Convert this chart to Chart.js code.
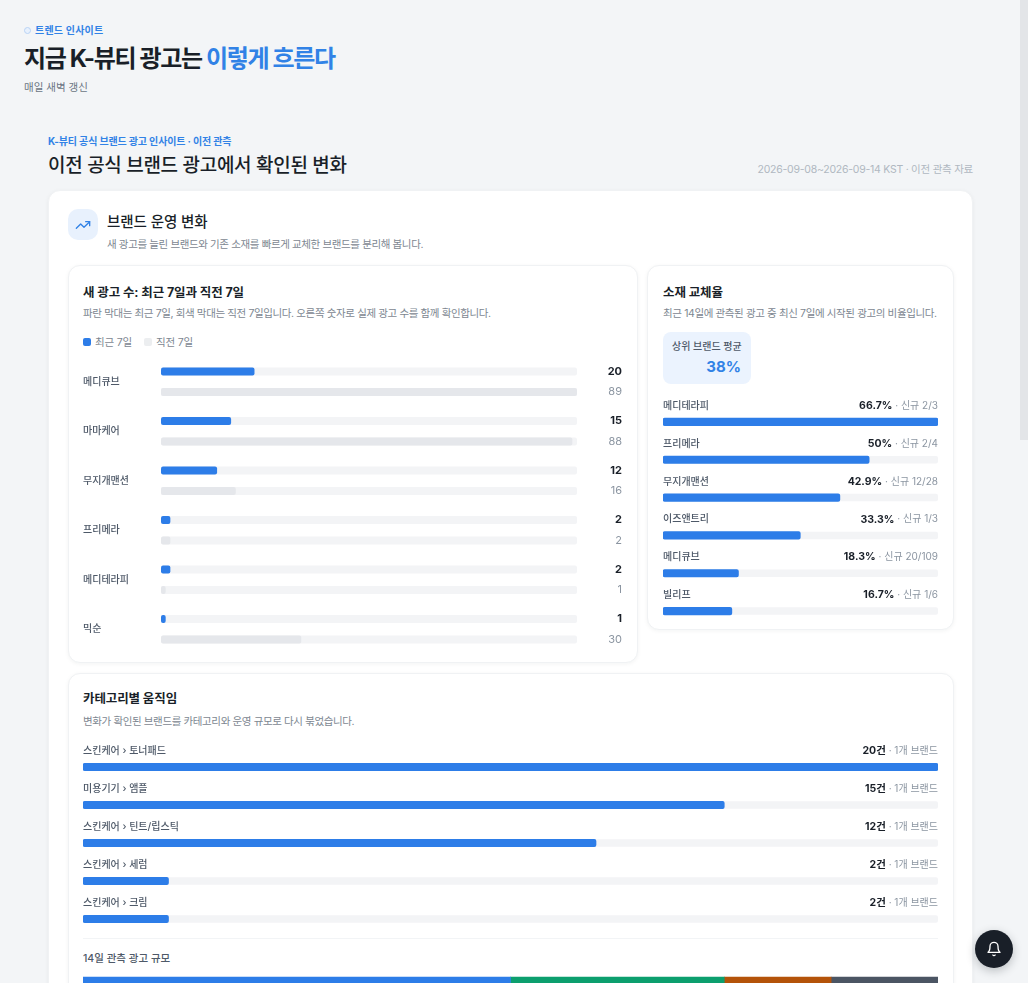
<!DOCTYPE html>
<html lang="ko">
<head>
<meta charset="utf-8">
<title>트렌드 인사이트</title>
<script src="https://cdn.jsdelivr.net/npm/chart.js@4"></script>
<style>
  * { box-sizing: border-box; margin: 0; padding: 0; }
  html, body { width: 1028px; height: 983px; overflow: hidden; }
  body { background: #f3f5f7; color: #191f28; font-family: Inter, "Noto Sans CJK KR", sans-serif; position: relative; }
  .abs { position: absolute; white-space: nowrap; }
  .blue { color: #3182e6; }
  .card { position: absolute; background: #fff; border-radius: 12px; border: 1px solid #f0f2f4; box-shadow: 0 1px 4px rgba(25,31,40,.05); }
  .t { font-size: 12.5px; font-weight: 700; letter-spacing: -.1px; line-height: 18px; }
  .sub { font-size: 10.5px; color: #7d8791; line-height: 14px; letter-spacing: -.38px; }
  .lg { position: absolute; top: 336px; font-size: 10.5px; color: #7d8791; line-height: 14px; white-space: nowrap; letter-spacing: -.2px; }
  .lg i { position: absolute; left: -12px; top: 2px; width: 8px; height: 8px; border-radius: 2px; }
  canvas { position: absolute; display: block; }
  #scrollThumb { position: absolute; left: 1020px; top: 0; width: 8px; height: 440px; background: #e3e5e8; }
  #bell { position: absolute; left: 975px; top: 930px; width: 38px; height: 38px; border-radius: 50%; background: #191f28; box-shadow: 0 3px 10px rgba(25,31,40,.25); display: flex; align-items: center; justify-content: center; }
</style>
</head>
<body>
  <div class="abs blue" style="left:24px;top:23px;font-size:10px;font-weight:700;letter-spacing:.2px;line-height:14px"><span style="display:inline-block;width:7px;height:7px;border-radius:50%;border:1px solid #b9d3f5;background:#e8f1fd;margin-right:4px"></span>트렌드 인사이트</div>
  <div class="abs" style="left:24px;top:42px;font-size:24px;font-weight:700;letter-spacing:-1.35px;line-height:34px">지금 K-뷰티 광고는 <span class="blue">이렇게 흐른다</span></div>
  <div class="abs" style="left:24px;top:80px;font-size:10.5px;color:#6b7684;line-height:15px">매일 새벽 갱신</div>

  <div class="abs blue" style="left:48px;top:134px;font-size:10px;font-weight:700;letter-spacing:-.15px;line-height:14px">K-뷰티 공식 브랜드 광고 인사이트 · 이전 관측</div>
  <div class="abs" style="left:48px;top:152px;font-size:19px;font-weight:500;letter-spacing:-.3px;line-height:28px">이전 공식 브랜드 광고에서 확인된 변화</div>
  <div class="abs" style="right:55px;top:163px;font-size:10.5px;color:#b0b8c1;line-height:14px;letter-spacing:-.25px">2026-09-08~2026-09-14 KST · 이전 관측 자료</div>

  <div class="card" style="left:48px;top:190px;width:925px;height:900px"></div>
  <div class="abs" style="left:68px;top:209px;width:30px;height:31px;border-radius:10px;background:#e8f1fd;display:flex;align-items:center;justify-content:center">
    <svg width="16" height="16" viewBox="0 0 24 24" fill="none" stroke="#3182e6" stroke-width="2" stroke-linecap="round" stroke-linejoin="round"><path d="M2 17l6.5-6.5 5 5L22 7"/><path d="M16 7h6v6"/></svg>
  </div>
  <div class="abs" style="left:107px;top:211px;font-size:14.5px;font-weight:500;line-height:22px;letter-spacing:-.05px">브랜드 운영 변화</div>
  <div class="abs sub" style="left:107px;top:238px">새 광고를 늘린 브랜드와 기존 소재를 빠르게 교체한 브랜드를 분리해 봅니다.</div>

  <div class="card" style="left:68px;top:265px;width:570px;height:398px"></div>
  <div class="abs t" style="left:83px;top:284px">새 광고 수: 최근 7일과 직전 7일</div>
  <div class="abs sub" style="left:83px;top:307px">파란 막대는 최근 7일, 회색 막대는 직전 7일입니다. 오른쪽 숫자로 실제 광고 수를 함께 확인합니다.</div>
  <div class="lg" style="left:95px"><i style="background:#2d7de8"></i>최근 7일</div>
  <div class="lg" style="left:156px"><i style="background:#eceef0"></i>직전 7일</div>
  <canvas id="newAdsChart" style="left:83px;top:351px;width:540px;height:309px"></canvas>

  <div class="card" style="left:647px;top:265px;width:307px;height:365px"></div>
  <div class="abs t" style="left:663px;top:284px">소재 교체율</div>
  <div class="abs sub" style="left:663px;top:307px">최근 14일에 관측된 광고 중 최신 7일에 시작된 광고의 비율입니다.</div>
  <div class="abs" style="left:663px;top:332px;width:88px;height:52px;border-radius:8px;background:#ebf3fe"></div>
  <div class="abs" style="left:672px;top:339px;font-size:10px;font-weight:500;color:#4e5968;line-height:14px">상위 브랜드 평균</div>
  <div class="abs blue" style="right:287px;top:355px;font-size:15px;font-weight:700;line-height:24px">38%</div>
  <canvas id="replaceChart" style="left:663px;top:395px;width:275px;height:235px"></canvas>

  <div class="card" style="left:68px;top:673px;width:886px;height:400px"></div>
  <div class="abs t" style="left:83px;top:690px">카테고리별 움직임</div>
  <div class="abs sub" style="left:83px;top:715px">변화가 확인된 브랜드를 카테고리와 운영 규모로 다시 붂었습니다.</div>
  <canvas id="categoryChart" style="left:83px;top:735px;width:855px;height:203px"></canvas>
  <div class="abs" style="left:83px;top:938px;width:855px;height:1px;background:#f2f4f6"></div>
  <div class="abs" style="left:83px;top:952px;font-size:10.5px;font-weight:500;color:#4e5968;line-height:14px">14일 관측 광고 규모</div>
  <canvas id="scaleChart" style="left:83px;top:972px;width:855px;height:30px"></canvas>

  <div id="scrollThumb"></div>
  <div id="bell">
    <svg width="16" height="16" viewBox="0 0 24 24" fill="none" stroke="#fff" stroke-width="2" stroke-linecap="round" stroke-linejoin="round"><path d="M6 8a6 6 0 0 1 12 0c0 7 3 9 3 9H3s3-2 3-9"/><path d="M10.3 21a1.94 1.94 0 0 0 3.4 0"/></svg>
  </div>

<script>
const FONT = 'Inter, "Noto Sans CJK KR", sans-serif';
const BLUE = "#2d7de8";
const TRACK = "#f3f4f6";
const GREY = "#e5e7eb";

// new ads per brand
const brands = ["메디큐브", "마마케어", "무지개맨션", "프리메라", "메디테라피", "믹순"];
const recentAds = [20, 15, 12, 2, 2, 1];
const previousAds = [89, 88, 16, 2, 1, 30];

// replacement rate
const replaceBrands = ["메디테라피", "프리메라", "무지개맨션", "이즈앤트리", "메디큐브", "빌리프"];
const replaceRates = [66.7, 50, 42.9, 33.3, 18.3, 16.7];
const replaceNotes = ["신규 2/3", "신규 2/4", "신규 12/28", "신규 1/3", "신규 20/109", "신규 1/6"];

// categories
const categories = ["스킨케어 › 토너패드", "미용기기 › 앰플", "스킨케어 › 틴트/립스틱", "스킨케어 › 세럼", "스킨케어 › 크림"];
const categoryAds = [20, 15, 12, 2, 2];
const categoryBrands = ["1개 브랜드", "1개 브랜드", "1개 브랜드", "1개 브랜드", "1개 브랜드"];

// 14 day scale segments
const scaleLabels = ["대형", "중형", "소형", "기타"];
const scaleValues = [4, 2, 1, 1];
const scaleColors = ["#2d7de8", "#0c9f6e", "#b45309", "#4b5563"];

Chart.defaults.font.family = FONT;
Chart.defaults.animation = false;
Chart.defaults.responsive = false;

function setSize(id) {
  const c = document.getElementById(id);
  c.width = parseInt(c.style.width);
  c.height = parseInt(c.style.height);
  return c;
}

// grey rail behind each bar
const trackPlugin = {
  id: "track",
  beforeDatasetsDraw(chart) {
    const { ctx, chartArea } = chart;
    chart.data.datasets.forEach((d, i) => {
      chart.getDatasetMeta(i).data.forEach(el => {
        ctx.fillStyle = TRACK;
        ctx.beginPath();
        ctx.roundRect(chartArea.left, el.y - el.height / 2, chartArea.right - chartArea.left, el.height, 2);
        ctx.fill();
      });
    });
  }
};

// numbers at the right of the first chart
const sideValues = {
  id: "sideValues",
  afterDatasetsDraw(chart) {
    const { ctx } = chart;
    ctx.textAlign = "right";
    ctx.textBaseline = "middle";
    chart.getDatasetMeta(0).data.forEach((el, i) => {
      ctx.font = "700 11px " + FONT;
      ctx.fillStyle = "#191f28";
      ctx.fillText(recentAds[i], chart.width - 1, el.y);
      const prev = chart.getDatasetMeta(1).data[i];
      ctx.font = "400 11px " + FONT;
      ctx.fillStyle = "#8b95a1";
      ctx.fillText(previousAds[i], chart.width - 1, prev.y);
    });
  }
};

// label above a bar on the left, bold + grey note on the right
function rowText(names, bold, notes) {
  return {
    id: "rowText",
    afterDatasetsDraw(chart) {
      const { ctx } = chart;
      ctx.textBaseline = "middle";
      chart.getDatasetMeta(0).data.forEach((el, i) => {
        const y = el.y - 16;
        ctx.textAlign = "left";
        ctx.font = "500 10px " + FONT;
        ctx.fillStyle = "#4e5968";
        ctx.fillText(names[i], 0, y);
        ctx.textAlign = "right";
        ctx.font = "400 10px " + FONT;
        ctx.fillStyle = "#8b95a1";
        const note = " · " + notes[i];
        ctx.fillText(note, chart.width, y);
        const w = ctx.measureText(note).width;
        ctx.font = "700 10.5px " + FONT;
        ctx.fillStyle = "#191f28";
        ctx.fillText(bold[i], chart.width - w, y);
      });
    }
  };
}

new Chart(setSize("newAdsChart"), {
  type: "bar",
  data: {
    labels: brands,
    datasets: [
      { label: "최근 7일", data: recentAds, backgroundColor: BLUE, borderRadius: 2, borderSkipped: false },
      { label: "직전 7일", data: previousAds, backgroundColor: GREY, borderRadius: 2, borderSkipped: false }
    ]
  },
  options: {
    indexAxis: "y",
    layout: { padding: { right: 46 } },
    categoryPercentage: 0.83,
    barPercentage: 0.38,
    plugins: { legend: { display: false }, tooltip: { enabled: false } },
    scales: {
      x: { min: 0, max: 89, display: false },
      y: {
        grid: { display: false },
        border: { display: false },
        afterFit(s) { s.width = 78; },
        ticks: { crossAlign: "far", padding: 0, color: "#4e5968", font: { size: 10, weight: "500" } }
      }
    }
  },
  plugins: [trackPlugin, sideValues]
});

new Chart(setSize("replaceChart"), {
  type: "bar",
  data: { labels: replaceBrands, datasets: [{ data: replaceRates, backgroundColor: BLUE, borderRadius: 2, borderSkipped: false, barThickness: 7.5 }] },
  options: {
    indexAxis: "y",
    layout: { padding: { top: 8 } },
    plugins: { legend: { display: false }, tooltip: { enabled: false } },
    scales: { x: { min: 0, max: 66.7, display: false }, y: { display: false } }
  },
  plugins: [trackPlugin, rowText(replaceBrands, replaceRates.map(v => v + "%"), replaceNotes)]
});

new Chart(setSize("categoryChart"), {
  type: "bar",
  data: { labels: categories, datasets: [{ data: categoryAds, backgroundColor: BLUE, borderRadius: 2, borderSkipped: false, barThickness: 7.5 }] },
  options: {
    indexAxis: "y",
    layout: { padding: { top: 13 } },
    plugins: { legend: { display: false }, tooltip: { enabled: false } },
    scales: { x: { min: 0, max: 20, display: false }, y: { display: false } }
  },
  plugins: [trackPlugin, rowText(categories, categoryAds.map(v => v + "건"), categoryBrands)]
});

new Chart(setSize("scaleChart"), {
  type: "bar",
  data: {
    labels: ["규모"],
    datasets: scaleValues.map((v, i) => ({ label: scaleLabels[i], data: [v], backgroundColor: scaleColors[i], barThickness: 20 }))
  },
  options: {
    indexAxis: "y",
    plugins: { legend: { display: false }, tooltip: { enabled: false } },
    scales: {
      x: { stacked: true, min: 0, max: 8, display: false },
      y: { stacked: true, display: false }
    }
  }
});
</script>
</body>
</html>
